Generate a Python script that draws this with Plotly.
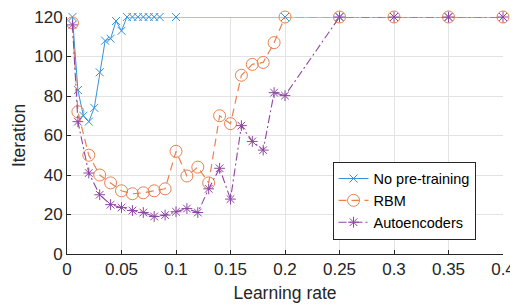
import plotly.graph_objects as go

# Data
blue_x = [0.005, 0.01, 0.015, 0.02, 0.025, 0.03, 0.035, 0.04, 0.045, 0.05,
          0.055, 0.06, 0.065, 0.07, 0.075, 0.08, 0.085, 0.1,
          0.2, 0.25, 0.3, 0.35, 0.4]
blue_y = [120, 83, 70, 67, 74, 92, 108, 109, 118, 113,
          120, 120, 120, 120, 120, 120, 120, 120,
          120, 120, 120, 120, 120]

rbm_x = [0.005, 0.01, 0.02, 0.03, 0.04, 0.05, 0.06, 0.07, 0.08, 0.09, 0.1,
         0.11, 0.12, 0.13, 0.14, 0.15, 0.16, 0.17, 0.18, 0.19, 0.2,
         0.25, 0.3, 0.35, 0.4]
rbm_y = [117, 72, 50, 40, 36, 32, 30.5, 31, 32, 33, 52,
         39.5, 44, 36, 70, 66, 90.5, 96, 97, 107, 120,
         120, 120, 120, 120]

ae_x = [0.005, 0.01, 0.02, 0.03, 0.04, 0.05, 0.06, 0.07, 0.08, 0.09, 0.1,
        0.11, 0.12, 0.13, 0.14, 0.15, 0.16, 0.17, 0.18, 0.19, 0.2,
        0.25, 0.3, 0.35, 0.4]
ae_y = [116, 67, 41, 30, 25, 23.5, 22, 21, 19, 19.7, 21.4,
        23, 21, 33, 43.4, 27.8, 65, 57, 52.6, 81.7, 80.2,
        120, 120, 120, 120]

x_ticks = [0, 0.05, 0.1, 0.15, 0.2, 0.25, 0.3, 0.35, 0.4]
x_tick_labels = ["0", "0.05", "0.1", "0.15", "0.2", "0.25", "0.3", "0.35", "0.4"]
y_ticks = [0, 20, 40, 60, 80, 100, 120]

BLUE = "#3593da"
ORANGE = "#ea8150"
PURPLE = "#8f45a3"

fig = go.Figure()
fig.add_trace(go.Scatter(
    x=blue_x, y=blue_y, name="No pre-training", mode="lines+markers",
    line=dict(color=BLUE, width=1, dash="solid"),
    marker=dict(symbol="x-thin-open", size=8, color=BLUE, line=dict(color=BLUE, width=1)),
    cliponaxis=False,
))
fig.add_trace(go.Scatter(
    x=rbm_x, y=rbm_y, name="RBM", mode="lines+markers",
    line=dict(color=ORANGE, width=1.2, dash="8px,5px"),
    marker=dict(symbol="circle-open", size=12, color=ORANGE, line=dict(color=ORANGE, width=1)),
    cliponaxis=False,
))
fig.add_trace(go.Scatter(
    x=ae_x, y=ae_y, name="Autoencoders", mode="lines+markers",
    line=dict(color=PURPLE, width=1.1, dash="8px,3px,2px,3px"),
    marker=dict(symbol="asterisk-open", size=9, color=PURPLE, line=dict(color=PURPLE, width=1)),
    cliponaxis=False,
))

FONT = "Liberation Sans, Arial, sans-serif"
tick_font = dict(family=FONT, size=17, color="#262626")
# page body has an 8px default margin, so the figure is sized to fit the window
fig.update_layout(
    width=510, height=297,
    margin=dict(l=59, r=15, t=9, b=51),
    paper_bgcolor="white", plot_bgcolor="white",
    font=dict(family=FONT, size=15, color="#262626"),
    showlegend=True,
    legend=dict(
        x=0.609, y=0.39, xanchor="left", yanchor="top",
        bgcolor="white", bordercolor="#262626", borderwidth=1,
        font=dict(family=FONT, size=14.5, color="#000000"),
        tracegroupgap=0,
    ),
)
fig.update_xaxes(
    range=[0, 0.4], tickvals=x_ticks, ticktext=x_tick_labels,
    automargin=False, ticklabeloverflow="allow",
    showgrid=True, gridcolor="#e3e3e3", gridwidth=1,
    showline=True, linecolor="#262626", linewidth=1,
    ticks="inside", ticklen=4, tickcolor="#262626",
    zeroline=False,
    title=dict(text="Learning rate", font=dict(family=FONT, size=17.5, color="#262626"), standoff=8),
    tickfont=tick_font,
)
fig.update_yaxes(
    range=[0, 120], tickvals=y_ticks,
    automargin=False, ticklabeloverflow="allow",
    showgrid=True, gridcolor="#e3e3e3", gridwidth=1,
    showline=True, linecolor="#262626", linewidth=1,
    ticks="inside", ticklen=4, tickcolor="#262626",
    zeroline=False,
    title=dict(text="Iteration", font=dict(family=FONT, size=17.5, color="#262626"), standoff=4),
    tickfont=tick_font,
)

fig.write_html("out.html")
